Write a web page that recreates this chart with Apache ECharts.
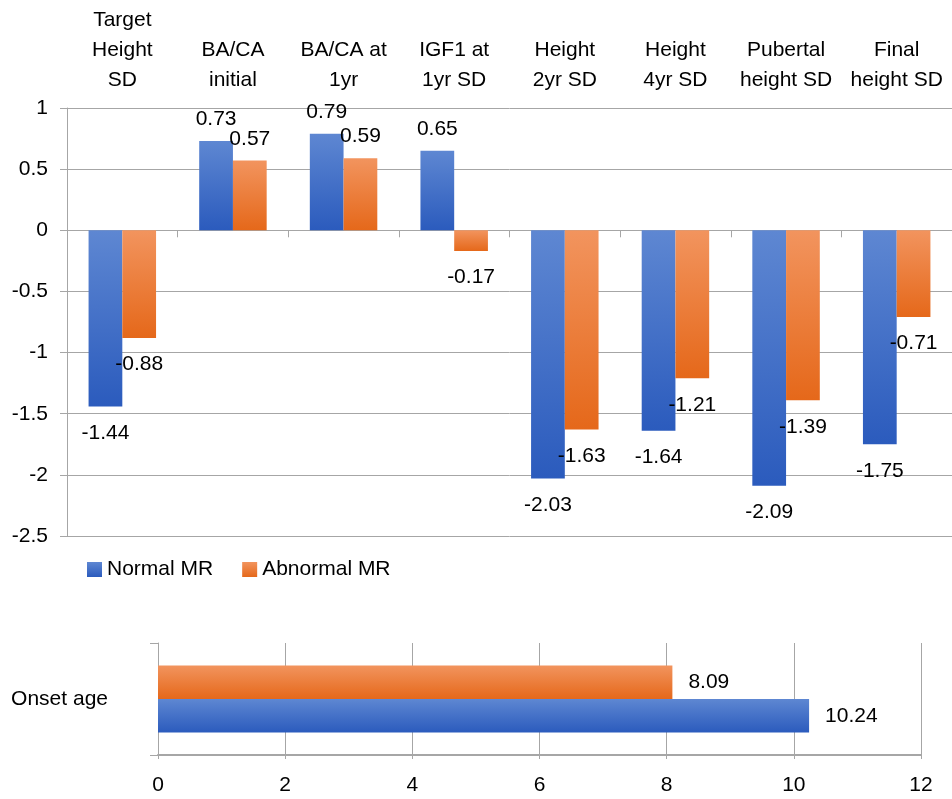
<!DOCTYPE html>
<html>
<head>
<meta charset="utf-8">
<script src="https://cdn.jsdelivr.net/npm/echarts@6/dist/echarts.min.js"></script>
<style>
html,body{margin:0;padding:0;background:#fff;}
#c{width:952px;height:799px;}
</style>
</head>
<body>
<div id="c"></div>
<script>
var categories = ['Target\nHeight\nSD', 'BA/CA\ninitial', 'BA/CA at\n1yr', 'IGF1 at\n1yr SD', 'Height\n2yr SD', 'Height\n4yr SD', 'Pubertal\nheight SD', 'Final\nheight SD'];
var normalMR = [-1.44, 0.73, 0.79, 0.65, -2.03, -1.64, -2.09, -1.75];
var abnormalMR = [-0.88, 0.57, 0.59, -0.17, -1.63, -1.21, -1.39, -0.71];
var yTicks = [-2.5, -2, -1.5, -1, -0.5, 0, 0.5, 1];

var onsetCategories = ['Onset age'];
var onsetNormal = [10.24];
var onsetAbnormal = [8.09];
var xTicks = [0, 2, 4, 6, 8, 10, 12];

var FONT = '"Liberation Sans", Arial, Helvetica, sans-serif';
var GRID = '#a6a6a6';

function grad(light, dark) {
  return new echarts.graphic.LinearGradient(0, 0, 0, 1, [
    {offset: 0, color: light}, {offset: 1, color: dark}
  ]);
}
var blue = grad('#5e87d2', '#2b5bbd');
var orange = grad('#f2945e', '#e5681a');

function withLabels(arr) {
  return arr.map(function (v) {
    return {
      value: v,
      label: {position: v < 0 ? 'bottom' : 'top', distance: v < 0 ? 16 : 11}
    };
  });
}

var labelStyle = {show: true, color: '#000', fontSize: 21, fontFamily: FONT};
var hLabel = {show: true, position: 'right', distance: 16, color: '#000', fontSize: 21, fontFamily: FONT};

var chart = echarts.init(document.getElementById('c'), null, {renderer: 'canvas'});
chart.setOption({
  animation: false,
  textStyle: {fontFamily: FONT},
  grid: [
    {left: 67, right: 0, top: 108, bottom: 263, containLabel: false},
    {left: 158, right: 31, top: 643, bottom: 44, containLabel: false}
  ],
  legend: {
    left: 82, top: 554,
    itemWidth: 15, itemHeight: 15, itemGap: 29,
    icon: 'rect',
    textStyle: {fontSize: 21, color: '#000', fontFamily: FONT},
    data: ['Normal MR', 'Abnormal MR']
  },
  xAxis: [
    {
      type: 'category', gridIndex: 0, position: 'top', data: categories,
      axisLine: {show: false, onZero: false}, axisTick: {show: false},
      axisLabel: {interval: 0, fontSize: 21, lineHeight: 30, color: '#000', margin: 13, fontFamily: FONT}
    },
    {
      type: 'category', gridIndex: 0, position: 'bottom', data: categories,
      axisLine: {show: true, onZero: true, lineStyle: {color: GRID, width: 1}},
      axisTick: {show: true, length: 7, interval: 0, lineStyle: {color: GRID}},
      axisLabel: {show: false}
    },
    {
      type: 'value', gridIndex: 1, min: 0, max: 12, interval: 2,
      axisLine: {show: true, lineStyle: {color: GRID, width: 2}},
      axisTick: {show: true, length: 4, lineStyle: {color: GRID}},
      splitLine: {show: true, lineStyle: {color: GRID, width: 1}},
      axisLabel: {fontSize: 21, color: '#000', margin: 20, fontFamily: FONT}
    }
  ],
  yAxis: [
    {
      type: 'value', gridIndex: 0, min: -2.5, max: 1, interval: 0.5,
      axisLine: {show: true, lineStyle: {color: GRID, width: 1}},
      axisTick: {show: true, length: 7, lineStyle: {color: GRID}},
      splitLine: {show: true, lineStyle: {color: GRID, width: 1}},
      axisLabel: {fontSize: 21, color: '#000', margin: 19, fontFamily: FONT,
        formatter: function (v) { return yTicks.indexOf(v) >= 0 ? String(v) : ''; }}
    },
    {
      type: 'category', gridIndex: 1, data: onsetCategories, inverse: true,
      axisLine: {show: true, lineStyle: {color: GRID, width: 1}},
      axisTick: {show: true, length: 8, lineStyle: {color: GRID}},
      axisLabel: {fontSize: 21, color: '#000', margin: 50, fontFamily: FONT}
    }
  ],
  series: [
    {
      name: 'Normal MR', type: 'bar', xAxisIndex: 0, yAxisIndex: 0,
      data: withLabels(normalMR), barGap: '0%', barCategoryGap: '39%',
      itemStyle: {color: blue}, label: labelStyle
    },
    {
      name: 'Abnormal MR', type: 'bar', xAxisIndex: 0, yAxisIndex: 0,
      data: withLabels(abnormalMR), barGap: '0%', barCategoryGap: '39%',
      itemStyle: {color: orange}, label: labelStyle
    },
    {
      name: 'Abnormal MR', type: 'bar', xAxisIndex: 2, yAxisIndex: 1,
      data: onsetAbnormal, barGap: '0%', barCategoryGap: '40%',
      itemStyle: {color: orange}, label: hLabel
    },
    {
      name: 'Normal MR', type: 'bar', xAxisIndex: 2, yAxisIndex: 1,
      data: onsetNormal, barGap: '0%', barCategoryGap: '40%',
      itemStyle: {color: blue}, label: hLabel
    }
  ]
});
</script>
</body>
</html>
